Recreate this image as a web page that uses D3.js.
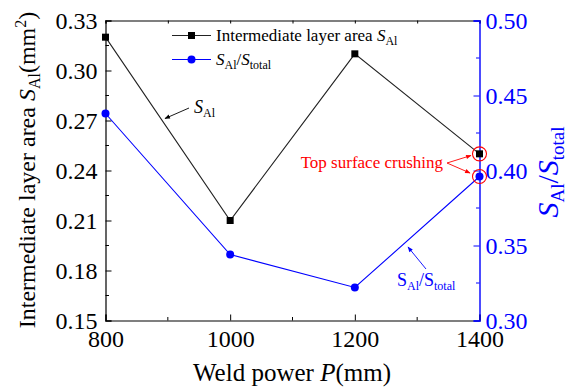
<!DOCTYPE html>
<html>
<head>
<meta charset="utf-8">
<script src="https://cdn.jsdelivr.net/npm/d3@7"></script>
<style>
  html, body { margin: 0; padding: 0; background: #fff; }
</style>
</head>
<body>
<svg id="chart" width="571" height="390"></svg>
<script>
// Weld power (W) and measured values
const power = [800, 1000, 1200, 1400];
const areaSAl = [0.32, 0.21, 0.31, 0.25];          // intermediate layer area (mm^2)
const ratioSAl = [0.438, 0.344, 0.322, 0.396];     // S_Al / S_total
const leftTicks = [0.15, 0.18, 0.21, 0.24, 0.27, 0.30, 0.33];
const rightTicks = [0.30, 0.35, 0.40, 0.45, 0.50];
const xTicks = [800, 1000, 1200, 1400];

const FONT = '"Liberation Serif", "Times New Roman", serif';
const svg = d3.select("#chart");
const m = { left: 105.5, right: 479.5, top: 20.5, bottom: 320.5 };

const x = d3.scaleLinear().domain([800, 1400]).range([m.left, m.right]);
const yL = d3.scaleLinear().domain([0.15, 0.33]).range([m.bottom, m.top]);
const yR = d3.scaleLinear().domain([0.30, 0.50]).range([m.bottom, m.top]);

const blue = "#0000ff";
const red = "#ff0000";

// Axes with inward ticks
const bottomAxis = d3.axisBottom(x).tickValues(xTicks).tickSize(-6).tickPadding(6).tickFormat(d3.format("d"));
const gB = svg.append("g").attr("transform", `translate(0,${m.bottom})`).call(bottomAxis);
gB.selectAll("text").attr("font-size", 24).attr("fill", "#000").attr("dy", "0.85em");
gB.selectAll("line,path").attr("stroke", "#000");
gB.select(".domain").attr("stroke-width", 1.2);
// minor x ticks
gB.selectAll(".minor").data([900, 1100, 1300]).enter().append("line")
  .attr("x1", d => x(d)).attr("x2", d => x(d)).attr("y1", 0).attr("y2", -3.5).attr("stroke", "#000");

// Top axis (ticks only)
const gT = svg.append("g").attr("transform", `translate(0,${m.top})`)
  .call(d3.axisTop(x).tickValues([800, 900, 1000, 1100, 1200, 1300, 1400]).tickSize(-3).tickFormat(""));
gT.selectAll("line,path").attr("stroke", "#000");
gT.select(".domain").attr("stroke-width", 1.2);

// Left axis
const leftAxis = d3.axisLeft(yL).tickValues(leftTicks).tickSize(-6).tickPadding(8).tickFormat(d3.format(".2f"));
const gL = svg.append("g").attr("transform", `translate(${m.left},0)`).call(leftAxis);
gL.selectAll("text").attr("font-size", 24).attr("fill", "#000");
gL.selectAll("line,path").attr("stroke", "#000");
gL.select(".domain").attr("stroke-width", 1.2);
gL.selectAll(".minor").data(d3.range(6).map(i => 0.165 + i * 0.03)).enter().append("line")
  .attr("x1", 0).attr("x2", 3.5).attr("y1", d => yL(d)).attr("y2", d => yL(d)).attr("stroke", "#000");

// Right axis (blue)
const rightAxis = d3.axisRight(yR).tickValues(rightTicks).tickSize(-6).tickPadding(6).tickFormat(d3.format(".2f"));
const gR = svg.append("g").attr("transform", `translate(${m.right},0)`).call(rightAxis);
gR.selectAll("text").attr("font-size", 24).attr("fill", blue);
gR.selectAll("line,path").attr("stroke", blue);
gR.select(".domain").attr("stroke-width", 1.4);
gR.selectAll(".minor").data([0.325, 0.375, 0.425, 0.475]).enter().append("line")
  .attr("x1", 0).attr("x2", -3.5).attr("y1", d => yR(d)).attr("y2", d => yR(d)).attr("stroke", blue);

// Axis titles
svg.append("text").attr("x", 292).attr("y", 381).attr("text-anchor", "middle").attr("font-size", 25)
  .html('Weld power <tspan font-style="italic">P</tspan>(mm)');

const lt = svg.append("text").attr("transform", "translate(35,170) rotate(-90)")
  .attr("text-anchor", "middle").attr("font-size", 24);
lt.append("tspan").text("Intermediate layer area ");
lt.append("tspan").attr("font-style", "italic").text("S");
lt.append("tspan").attr("font-size", 16).attr("dy", 5).text("Al");
lt.append("tspan").attr("dy", -5).text("(mm");
lt.append("tspan").attr("font-size", 16).attr("dy", -9).text("2");
lt.append("tspan").attr("dy", 9).text(")");

const rt = svg.append("text").attr("transform", "translate(558,172) rotate(-90)")
  .attr("text-anchor", "middle").attr("font-size", 30).attr("fill", blue);
rt.append("tspan").attr("font-style", "italic").text("S");
rt.append("tspan").attr("font-size", 19).attr("dy", 6).text("Al");
rt.append("tspan").attr("dy", -6).text("/");
rt.append("tspan").attr("font-style", "italic").text("S");
rt.append("tspan").attr("font-size", 19).attr("dy", 6).text("total");

// Series
const lineL = d3.line().x((d, i) => x(power[i])).y(d => yL(d));
const lineR = d3.line().x((d, i) => x(power[i])).y(d => yR(d));

svg.append("path").datum(areaSAl).attr("d", lineL).attr("fill", "none").attr("stroke", "#222").attr("stroke-width", 1.1);
svg.append("path").datum(ratioSAl).attr("d", lineR).attr("fill", "none").attr("stroke", blue).attr("stroke-width", 1.1);

svg.selectAll(".sq").data(areaSAl).enter().append("rect")
  .attr("x", (d, i) => x(power[i]) - 3.5).attr("y", d => yL(d) - 3.5)
  .attr("width", 7).attr("height", 7).attr("fill", "#000");
svg.selectAll(".ci").data(ratioSAl).enter().append("circle")
  .attr("cx", (d, i) => x(power[i])).attr("cy", d => yR(d)).attr("r", 4).attr("fill", blue);

// Legend
const lg = svg.append("g");
lg.append("line").attr("x1", 172).attr("x2", 211).attr("y1", 35.5).attr("y2", 35.5).attr("stroke", "#222");
lg.append("rect").attr("x", 188).attr("y", 32).attr("width", 7).attr("height", 7).attr("fill", "#000");
const l1 = lg.append("text").attr("x", 216).attr("y", 41).attr("font-size", 17);
l1.append("tspan").text("Intermediate layer area ");
l1.append("tspan").attr("font-style", "italic").text("S");
l1.append("tspan").attr("font-size", 12).attr("dy", 4).text("Al");

lg.append("line").attr("x1", 172).attr("x2", 211).attr("y1", 59.5).attr("y2", 59.5).attr("stroke", blue);
lg.append("circle").attr("cx", 191.5).attr("cy", 59.5).attr("r", 4).attr("fill", blue);
const l2 = lg.append("text").attr("x", 216).attr("y", 65).attr("font-size", 17);
l2.append("tspan").attr("font-style", "italic").text("S");
l2.append("tspan").attr("font-size", 12).attr("dy", 4).text("Al");
l2.append("tspan").attr("dy", -4).text("/");
l2.append("tspan").attr("font-style", "italic").text("S");
l2.append("tspan").attr("font-size", 12).attr("dy", 4).text("total");

// Arrow markers
const defs = svg.append("defs");
function arrowHead(id, color) {
  defs.append("marker").attr("id", id).attr("viewBox", "0 0 10 10").attr("refX", 9).attr("refY", 5)
    .attr("markerWidth", 7).attr("markerHeight", 6).attr("orient", "auto")
    .append("path").attr("d", "M0,1 L10,5 L0,9 z").attr("fill", color);
}
arrowHead("ah-black", "#000");
arrowHead("ah-blue", blue);
arrowHead("ah-red", red);

// S_Al annotation
svg.append("line").attr("x1", 189).attr("y1", 108).attr("x2", 165).attr("y2", 118.5)
  .attr("stroke", "#000").attr("stroke-width", 0.9).attr("marker-end", "url(#ah-black)");
const a1 = svg.append("text").attr("x", 194).attr("y", 113).attr("font-size", 18);
a1.append("tspan").attr("font-style", "italic").text("S");
a1.append("tspan").attr("font-size", 12).attr("dy", 4).text("Al");

// S_Al/S_total annotation
svg.append("line").attr("x1", 426).attr("y1", 269).attr("x2", 408).attr("y2", 247)
  .attr("stroke", blue).attr("stroke-width", 0.9).attr("marker-end", "url(#ah-blue)");
const a2 = svg.append("text").attr("x", 397).attr("y", 286).attr("font-size", 18).attr("fill", blue);
a2.append("tspan").text("S");
a2.append("tspan").attr("font-size", 12).attr("dy", 4).text("Al");
a2.append("tspan").attr("dy", -4).text("/S");
a2.append("tspan").attr("font-size", 12).attr("dy", 4).text("total");

// Top surface crushing callout
const last = power.length - 1;
svg.append("circle").attr("cx", x(power[last])).attr("cy", yL(areaSAl[last])).attr("r", 7)
  .attr("fill", "none").attr("stroke", red).attr("stroke-width", 1.1);
svg.append("circle").attr("cx", x(power[last])).attr("cy", yR(ratioSAl[last])).attr("r", 7)
  .attr("fill", "none").attr("stroke", red).attr("stroke-width", 1.1);
svg.append("text").attr("x", 443).attr("y", 168).attr("text-anchor", "end").attr("font-size", 17)
  .attr("fill", red).text("Top surface crushing");
svg.append("line").attr("x1", 447).attr("y1", 163).attr("x2", 471).attr("y2", 155.5)
  .attr("stroke", red).attr("stroke-width", 0.9).attr("marker-end", "url(#ah-red)");
svg.append("line").attr("x1", 447).attr("y1", 163).attr("x2", 470).attr("y2", 173)
  .attr("stroke", red).attr("stroke-width", 0.9).attr("marker-end", "url(#ah-red)");

// Serif typeface for every label
svg.selectAll("text").style("font-family", FONT);
</script>
</body>
</html>
